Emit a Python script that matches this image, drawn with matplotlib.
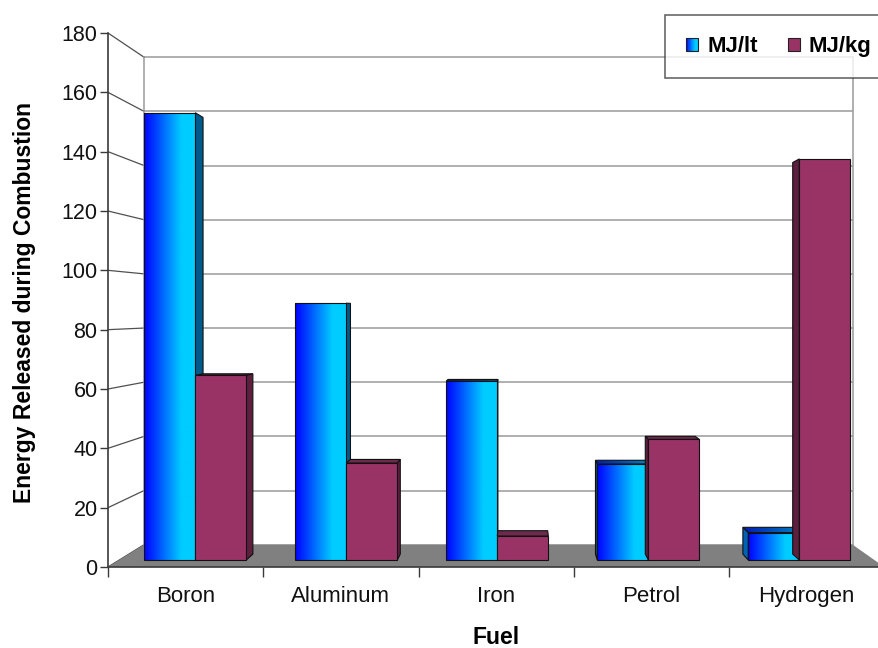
import numpy as np
import matplotlib
matplotlib.use("Agg")
import matplotlib.pyplot as plt
from matplotlib.patches import Polygon, Rectangle, Patch
from matplotlib.legend_handler import HandlerBase
from matplotlib.colors import LinearSegmentedColormap

# ---- data -------------------------------------------------------------
fuels = ["Boron", "Aluminum", "Iron", "Petrol", "Hydrogen"]
mj_per_litre = [155, 89, 62, 33.3, 9.5]
mj_per_kg = [64, 33.6, 8.3, 41.8, 139]
series_names = ["MJ/lt", "MJ/kg"]
value_ticks = list(range(0, 181, 20))

plt.rcParams["font.family"] = ["Liberation Sans", "DejaVu Sans"]

W, H = 879, 648
fig = plt.figure(figsize=(W / 100, H / 100), dpi=100)
fig.patch.set_facecolor("white")
ax = fig.add_axes([108 / W, 81 / H, 776.25 / W, 534 / H])

XMAX, VMAX = len(fuels), 180

# ---- simple perspective projection (front plane = data coordinates) ----
VX, VY = 2.667, 86.3       # vanishing point
SHRINK = 0.087             # scale loss from front (d=0) to back wall (d=1)
D_FRONT, D_BACK = 0.314, 0.58   # depth slab occupied by the columns
GAP, BAR_W = 0.165, 0.338


def proj(x, v, d):
    s = 1.0 - SHRINK * d
    return VX + s * (x - VX), VY + s * (v - VY)


blue_cmap = LinearSegmentedColormap.from_list(
    "blue_face", [(0.0, (0.0, 0.0, 1.0)), (0.72, (0.0, 0.80, 1.0)), (1.0, (0.0, 0.80, 1.0))])
blue_top_cmap = LinearSegmentedColormap.from_list(
    "blue_top", [(0.0, (0.0, 0.10, 0.70)), (1.0, (0.0, 0.50, 0.75))])
grad = np.linspace(0, 1, 256).reshape(1, -1)

z = [3.0]


def next_z():
    z[0] += 0.01
    return z[0]


def face(pts, color, gradient=None):
    zz = next_z()
    poly = Polygon(pts, closed=True, facecolor=color if gradient is None else "none",
                   edgecolor="none", zorder=zz)
    ax.add_patch(poly)
    if gradient is not None:
        xs = [p[0] for p in pts]
        ys = [p[1] for p in pts]
        im = ax.imshow(grad, cmap=gradient, aspect="auto", interpolation="bilinear",
                       extent=[min(xs), max(xs), min(ys), max(ys)], origin="lower", zorder=zz)
        im.set_clip_path(poly)
    edge = Polygon(pts, closed=True, facecolor="none", edgecolor="#111111",
                   linewidth=0.8, zorder=zz + 0.001)
    ax.add_patch(edge)


def column(x0, v, front, top, side_r, side_l, front_grad=None, top_grad=None):
    x1 = x0 + BAR_W
    if v < VY:
        face([proj(x0, v, D_FRONT), proj(x1, v, D_FRONT),
              proj(x1, v, D_BACK), proj(x0, v, D_BACK)], top, top_grad)
    if x1 < VX:
        face([proj(x1, 0, D_FRONT), proj(x1, v, D_FRONT),
              proj(x1, v, D_BACK), proj(x1, 0, D_BACK)], side_r)
    elif x0 > VX:
        face([proj(x0, 0, D_FRONT), proj(x0, v, D_FRONT),
              proj(x0, v, D_BACK), proj(x0, 0, D_BACK)], side_l)
    face([proj(x0, 0, D_FRONT), proj(x1, 0, D_FRONT),
          proj(x1, v, D_FRONT), proj(x0, v, D_FRONT)], front, front_grad)


# ---- walls and floor ----------------------------------------------------
grid_c = "#9a9a9a"
for v in value_ticks:
    bx0, by = proj(0, v, 1)
    bx1, _ = proj(XMAX, v, 1)
    ax.plot([bx0, bx1], [by, by], color=grid_c, lw=1.1, zorder=1, solid_capstyle="butt")
    fx, fy = proj(0, v, 0)
    ax.plot([fx, bx0], [fy, by], color="#505050", lw=0.9, zorder=1)
for xe in (0, XMAX):
    bx, b0 = proj(xe, 0, 1)
    _, b1 = proj(xe, VMAX, 1)
    ax.plot([bx, bx], [b0, b1], color=grid_c, lw=1.1, zorder=1)

floor = Polygon([proj(0, 0, 0), proj(XMAX, 0, 0), proj(XMAX, 0, 1), proj(0, 0, 1)],
                closed=True, facecolor="#808080", edgecolor="none", zorder=2)
ax.add_patch(floor)

# ---- columns: one series after the other -------------------------------
for i, v in enumerate(mj_per_litre):
    column(i + GAP, v, None, None, "#005a8c", "#0062b4",
           front_grad=blue_cmap, top_grad=blue_top_cmap)
for i, v in enumerate(mj_per_kg):
    column(i + GAP + BAR_W, v, "#993366", "#6e2a4c", "#5e1f3e", "#5e1f3e")

# ---- axes ---------------------------------------------------------------
ax.set_xlim(0, XMAX)
ax.set_ylim(0, VMAX)
ax.set_facecolor("white")
for side in ("top", "right"):
    ax.spines[side].set_visible(False)
for side in ("left", "bottom"):
    ax.spines[side].set_color("#3a3a3a")
    ax.spines[side].set_linewidth(1.2)
    ax.spines[side].set_zorder(10)

ax.set_yticks(value_ticks)
ax.tick_params(axis="y", direction="out", length=6, width=1.0, color="#3a3a3a",
               pad=1.5, labelsize=15.5, labelcolor="#111111")
ax.set_xticks(np.arange(0, XMAX + 1))
ax.set_xticklabels([])
ax.set_xticks(np.arange(XMAX) + 0.5, minor=True)
ax.set_xticklabels(fuels, minor=True)
ax.tick_params(axis="x", which="major", direction="out", length=7.5, width=1.0,
               color="#3a3a3a")
ax.tick_params(axis="x", which="minor", length=0, pad=14, labelsize=16,
               labelcolor="#111111")

ax.set_xlabel("Fuel", fontsize=16.5, fontweight="bold")
ax.xaxis.set_label_coords(0.5, -0.111)
ax.set_ylabel("Energy Released during Combustion", fontsize=16.5, fontweight="bold")
ax.yaxis.set_label_coords(-0.093, 0.496)


# ---- legend -------------------------------------------------------------
class GradientSquare(HandlerBase):
    def __init__(self, cmap, **kw):
        super().__init__(**kw)
        self.cmap = cmap

    def create_artists(self, legend, orig_handle, xdescent, ydescent, width, height,
                       fontsize, trans):
        n = 16
        arts = []
        for k in range(n):
            arts.append(Rectangle((-xdescent + width * k / n, -ydescent), width / n, height,
                                  facecolor=self.cmap((k + 0.5) / n), edgecolor="none",
                                  transform=trans))
        arts.append(Rectangle((-xdescent, -ydescent), width, height, facecolor="none",
                              edgecolor="#222222", lw=0.8, transform=trans))
        return arts


h_lt = Patch(facecolor=(0, 0.4, 1.0), edgecolor="#222222", label=series_names[0])
h_kg = Patch(facecolor="#993366", edgecolor="#222222", linewidth=0.8, label=series_names[1])
leg = fig.legend(handles=[h_lt, h_kg], ncol=2, loc="upper left",
                 bbox_to_anchor=(665 / W, 1 - 15 / H),
                 handler_map={h_lt: GradientSquare(blue_cmap)},
                 prop={"size": 16, "weight": "bold"}, frameon=True, fancybox=False,
                 handlelength=0.55, handleheight=0.55, handletextpad=0.4,
                 columnspacing=1.35, borderpad=0.95, borderaxespad=0)
leg.get_frame().set_edgecolor("#333333")
leg.get_frame().set_linewidth(1.1)

fig.savefig("out.png", dpi=100, facecolor="white")
